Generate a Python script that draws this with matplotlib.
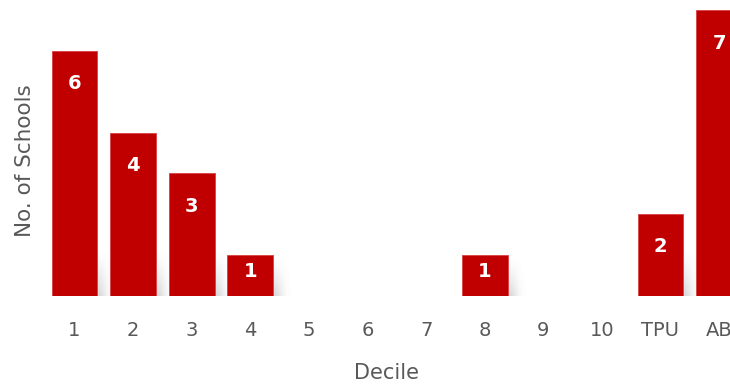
import numpy as np
import matplotlib.pyplot as plt

# schools per decile
deciles = ['1', '2', '3', '4', '5', '6', '7', '8', '9', '10', 'TPU', 'AB']
schools = [6, 4, 3, 1, 0, 0, 0, 1, 0, 0, 2, 7]

bar_color = '#C00000'
text_gray = '#595959'

fig = plt.figure(figsize=(7.3, 3.85), dpi=100)
ax = fig.add_axes([45 / 730, 89 / 385, 685 / 730, 296 / 385])

x = np.arange(len(deciles))
width = 0.78
ax.bar(x, schools, width=width, color=bar_color, edgecolor='#d84040',
       linewidth=0.6, zorder=3)

# soft shadow at the lower right of each bar
px_x, px_y = 58.6, 40.86
for xi, v in zip(x, schools):
    if v == 0:
        continue
    right = xi + width / 2
    h = min(v * px_y, 48)
    dx = np.linspace(-12, 22, 60)
    dy = np.linspace(0, h, 40)
    gx, gy = np.meshgrid(dx, dy)
    a = 0.28 * np.exp(-(np.clip(gx, 0, None) / 9) ** 2) * (1 - gy / h) ** 1.3
    rgba = np.zeros((40, 60, 4))
    rgba[..., :3] = 0.45
    rgba[..., 3] = a
    ax.imshow(rgba, origin='lower', aspect='auto', interpolation='bilinear',
              extent=(right + dx[0] / px_x, right + dx[-1] / px_x, 0, h / px_y),
              zorder=2)

for xi, v in zip(x, schools):
    if v == 0:
        continue
    ax.text(xi, max(v - 0.81, v * 0.6), str(v), ha='center', va='center',
            color='white', fontsize=14, fontweight='bold', zorder=4)

ax.set_xlim(-0.503, 11.186)
ax.set_ylim(0, 7.245)
ax.set_xticks(x)
ax.set_xticklabels(deciles, color=text_gray, fontsize=14)
ax.tick_params(axis='x', length=0, pad=18)
ax.set_yticks([])
for s in ax.spines.values():
    s.set_visible(False)

fig.text(387 / 730, 1 - 373 / 385, 'Decile', ha='center', va='center',
         color=text_gray, fontsize=15)
fig.text(25 / 730, 1 - 161 / 385, 'No. of Schools', ha='center', va='center',
         rotation=90, color=text_gray, fontsize=15.5)

fig.savefig('out.png', dpi=100)
